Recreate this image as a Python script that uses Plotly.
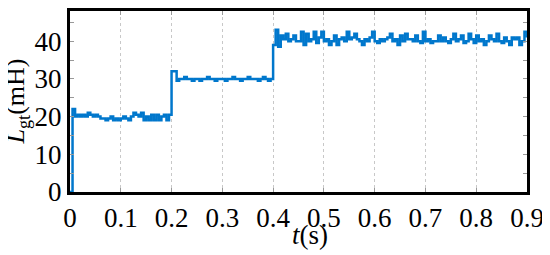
import numpy as np
import plotly.graph_objects as go

# Inductance estimate L_gt (mH), sampled every 5 ms
dt = 0.005

seg_20 = [0, 22, 20, 20.5, 20, 20.5, 20, 21, 20.5, 20,
          20.5, 20, 19.5, 19.5, 19, 19.5, 20, 19, 19.5, 19,
          19.5, 20, 19.5, 19, 20, 21, 20.5, 20, 21, 19,
          20, 19, 20.5, 19, 20.5, 19, 20, 20.5, 19, 20.5]

seg_30 = [32, 32, 29.5, 30, 30, 30.5, 30, 30, 29.5, 30,
          30, 29.5, 30, 30, 30.5, 30, 30, 29.5, 30, 30,
          30, 29.5, 30, 30, 30.5, 30, 30, 29.5, 30, 30,
          30.5, 30, 30, 30, 29.5, 30, 30.5, 30, 29.5, 30]

seg_40 = [39, 43, 38.5, 41.5, 40.5, 42, 40, 40.5, 41.5, 40,
          40, 42.5, 39, 42, 40, 40.5, 42.5, 39.5, 41, 42.5,
          40, 40.5, 39, 40, 41.5, 39, 40.5, 41, 40, 42.5,
          40.5, 41, 42, 40.5, 40, 39, 40.5, 40, 41, 42.5,
          40, 39.5, 40.5, 40, 40.5, 41, 42, 40, 40.5, 39,
          41.5, 40, 42, 40.5, 40.5, 40, 41.5, 40, 39.5, 42.5,
          40, 40.5, 39.5, 40, 40, 41.5, 40, 41, 40, 39.5,
          40.5, 42, 40, 40.5, 41.5, 39.5, 40, 42, 40.5, 39.5,
          41.5, 40, 40.5, 39, 40, 41.5, 40.5, 40, 42, 40,
          39.5, 41, 40, 39, 41, 40.5, 41, 39, 40, 42.5,
          41]

L_gt = seg_20 + seg_30 + seg_40
t = np.arange(len(L_gt)) * dt

x_ticks = [0, 0.1, 0.2, 0.3, 0.4, 0.5, 0.6, 0.7, 0.8, 0.9]
x_labels = ["0", "0.1", "0.2", "0.3", "0.4", "0.5", "0.6", "0.7", "0.8", "0.9"]
y_ticks = [0, 10, 20, 30, 40]

FONT = "Liberation Serif"

fig = go.Figure()
fig.add_trace(go.Scatter(
    x=t, y=L_gt,
    mode="lines",
    line=dict(color="#0077CC", width=2.5, shape="hv"),
    showlegend=False,
))

# the page body shifts the figure by a few px, so it is sized a bit smaller
fig.update_layout(
    width=542, height=247,
    margin=dict(l=62, r=23, t=0, b=63),
    plot_bgcolor="white",
    paper_bgcolor="white",
    font=dict(family=FONT, size=27, color="black"),
)

fig.update_xaxes(
    range=[0, 0.9],
    tickvals=x_ticks, ticktext=x_labels,
    showgrid=True, gridcolor="#c8c8c8", gridwidth=1, griddash="dot",
    showline=True, linecolor="black", linewidth=3, mirror="ticks",
    ticks="inside", ticklen=4, tickcolor="#999999",
    ticklabelstandoff=0,
    zeroline=False,
)
fig.update_yaxes(
    range=[0, 48],
    tickvals=y_ticks,
    showgrid=False,
    showline=True, linecolor="black", linewidth=3, mirror="ticks",
    ticks="inside", ticklen=4, tickcolor="#999999",
    minor=dict(dtick=5, ticks="inside", ticklen=4, tickcolor="#999999"),
    zeroline=False,
)

# axis titles
fig.add_annotation(
    text="<i>t</i>(s)", xref="paper", yref="paper",
    x=0.525, y=-0.24, xanchor="center", yanchor="middle",
    showarrow=False, font=dict(family=FONT, size=27),
)
fig.add_annotation(
    text="<i>L</i><sub>gt</sub>(mH)", xref="paper", yref="paper",
    x=-0.116, y=0.5, xanchor="center", yanchor="middle", textangle=-90,
    showarrow=False, font=dict(family=FONT, size=26),
)

fig.write_html("out.html")
